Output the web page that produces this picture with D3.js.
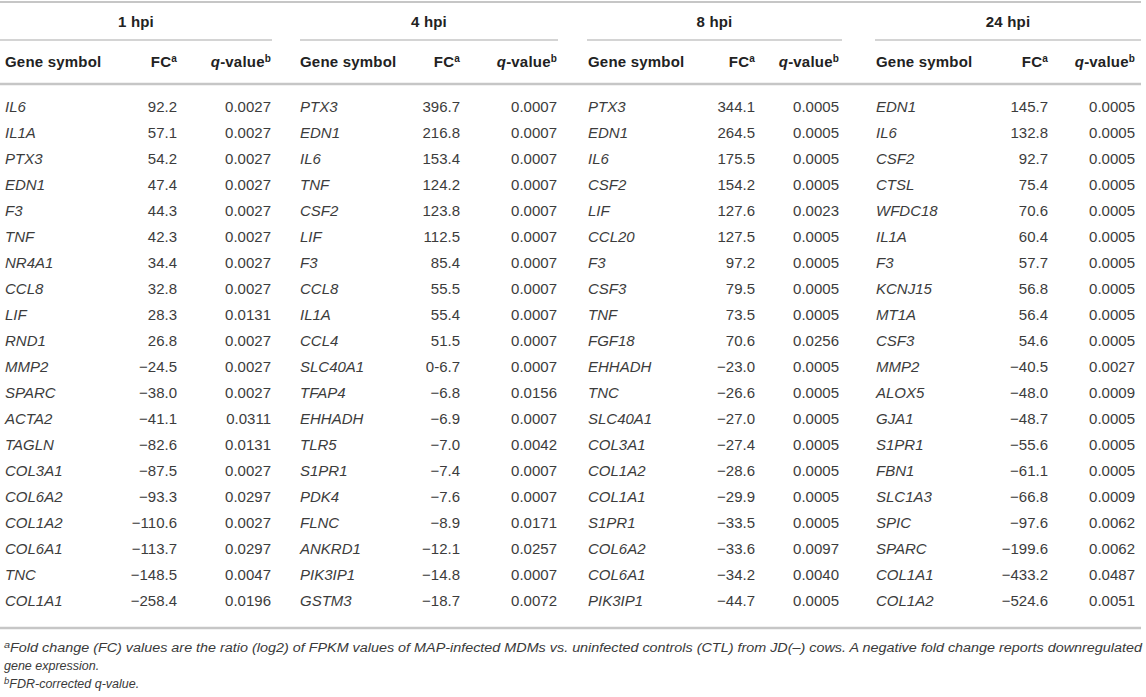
<!DOCTYPE html>
<html>
<head>
<meta charset="utf-8">
<script src="https://cdn.jsdelivr.net/npm/d3@7"></script>
<style>
  body { margin: 0; background: #fff; }
  svg text { font-family: "Liberation Sans", Arial, Helvetica, sans-serif; }
  .cell { font-size: 15px; fill: #3c3c3c; }
  .gene { font-style: italic; }
  .head { font-size: 15px; font-weight: bold; fill: #222; letter-spacing: 0.2px; }
  .note { font-size: 12.5px; font-style: italic; fill: #3a3a3a; }
</style>
</head>
<body>
<div id="chart"></div>
<script>
// table content, one set of arrays per time point
var groups = ["1 hpi", "4 hpi", "8 hpi", "24 hpi"];

var genes1 = ["IL6","IL1A","PTX3","EDN1","F3","TNF","NR4A1","CCL8","LIF","RND1",
              "MMP2","SPARC","ACTA2","TAGLN","COL3A1","COL6A2","COL1A2","COL6A1","TNC","COL1A1"];
var fc1 = [92.2,57.1,54.2,47.4,44.3,42.3,34.4,32.8,28.3,26.8,
           -24.5,-38.0,-41.1,-82.6,-87.5,-93.3,-110.6,-113.7,-148.5,-258.4];
var q1 = [0.0027,0.0027,0.0027,0.0027,0.0027,0.0027,0.0027,0.0027,0.0131,0.0027,
          0.0027,0.0027,0.0311,0.0131,0.0027,0.0297,0.0027,0.0297,0.0047,0.0196];

var genes4 = ["PTX3","EDN1","IL6","TNF","CSF2","LIF","F3","CCL8","IL1A","CCL4",
              "SLC40A1","TFAP4","EHHADH","TLR5","S1PR1","PDK4","FLNC","ANKRD1","PIK3IP1","GSTM3"];
var fc4 = [396.7,216.8,153.4,124.2,123.8,112.5,85.4,55.5,55.4,51.5,
           -6.7,-6.8,-6.9,-7.0,-7.4,-7.6,-8.9,-12.1,-14.8,-18.7];
var q4 = [0.0007,0.0007,0.0007,0.0007,0.0007,0.0007,0.0007,0.0007,0.0007,0.0007,
          0.0007,0.0156,0.0007,0.0042,0.0007,0.0007,0.0171,0.0257,0.0007,0.0072];

var genes8 = ["PTX3","EDN1","IL6","CSF2","LIF","CCL20","F3","CSF3","TNF","FGF18",
              "EHHADH","TNC","SLC40A1","COL3A1","COL1A2","COL1A1","S1PR1","COL6A2","COL6A1","PIK3IP1"];
var fc8 = [344.1,264.5,175.5,154.2,127.6,127.5,97.2,79.5,73.5,70.6,
           -23.0,-26.6,-27.0,-27.4,-28.6,-29.9,-33.5,-33.6,-34.2,-44.7];
var q8 = [0.0005,0.0005,0.0005,0.0005,0.0023,0.0005,0.0005,0.0005,0.0005,0.0256,
          0.0005,0.0005,0.0005,0.0005,0.0005,0.0005,0.0005,0.0097,0.0040,0.0005];

var genes24 = ["EDN1","IL6","CSF2","CTSL","WFDC18","IL1A","F3","KCNJ15","MT1A","CSF3",
               "MMP2","ALOX5","GJA1","S1PR1","FBN1","SLC1A3","SPIC","SPARC","COL1A1","COL1A2"];
var fc24 = [145.7,132.8,92.7,75.4,70.6,60.4,57.7,56.8,56.4,54.6,
            -40.5,-48.0,-48.7,-55.6,-61.1,-66.8,-97.6,-199.6,-433.2,-524.6];
var q24 = [0.0005,0.0005,0.0005,0.0005,0.0005,0.0005,0.0005,0.0005,0.0005,0.0005,
           0.0027,0.0009,0.0005,0.0005,0.0005,0.0009,0.0062,0.0062,0.0487,0.0051];

// the source prints this one cell as "0-6.7"
var fcLabelFix = { "4 hpi|SLC40A1": "0-6.7" };

var footA = ["Fold change (FC) values are the ratio (log2) of FPKM values of MAP-infected MDMs vs. uninfected controls (CTL) from JD(\u2013) cows. A negative fold change reports downregulated",
             "gene expression."];
var footB = "FDR-corrected q-value.";

var tables = [
  {name: groups[0], genes: genes1, fc: fc1, q: q1},
  {name: groups[1], genes: genes4, fc: fc4, q: q4},
  {name: groups[2], genes: genes8, fc: fc8, q: q8},
  {name: groups[3], genes: genes24, fc: fc24, q: q24}
];

// layout
var W = 1146, H = 697;
// gene column left edge, FC right edge, q right edge, underline span
var cols = [
  {gene: 5,   fc: 177,  q: 271,  x0: 0,   x1: 272},
  {gene: 300, fc: 460,  q: 557,  x0: 300, x1: 558},
  {gene: 588, fc: 755,  q: 839,  x0: 587, x1: 842},
  {gene: 876, fc: 1048, q: 1135, x0: 875, x1: 1141}
];

var fmtFC = d3.format(".1f"), fmtQ = d3.format(".4f");
var y = d3.scaleLinear().domain([0, 19]).range([107, 601]);

var svg = d3.select("#chart").append("svg")
    .attr("width", W).attr("height", H);

var ruleColor = "#c6c6c6";
function rule(y0, x0, x1, w) {
  svg.append("line").attr("x1", x0).attr("x2", x1).attr("y1", y0).attr("y2", y0)
     .attr("stroke", ruleColor).attr("stroke-width", w);
}
rule(2, 0, 1141, 2);
rule(84, 0, 1141, 2.5);
rule(628, 0, 1141, 2.5);

tables.forEach(function(t, i) {
  var c = cols[i];
  var g = svg.append("g");

  // group title + underline
  g.append("text").attr("class", "head")
    .attr("x", (c.x0 + c.x1) / 2).attr("y", 27)
    .attr("text-anchor", "middle").text(t.name);
  g.append("line").attr("x1", c.x0).attr("x2", c.x1).attr("y1", 40).attr("y2", 40)
    .attr("stroke", ruleColor).attr("stroke-width", 1.5);

  // column headers
  g.append("text").attr("class", "head").attr("x", c.gene).attr("y", 67).text("Gene symbol");
  var fcH = g.append("text").attr("class", "head").attr("x", c.fc).attr("y", 67).attr("text-anchor", "end");
  fcH.append("tspan").text("FC");
  fcH.append("tspan").attr("dy", -5).attr("font-size", "10px").text("a");
  var qH = g.append("text").attr("class", "head").attr("x", c.q).attr("y", 67).attr("text-anchor", "end");
  qH.append("tspan").attr("font-style", "italic").text("q");
  qH.append("tspan").text("-value");
  qH.append("tspan").attr("dy", -5).attr("font-size", "10px").text("b");

  // rows
  var rows = g.selectAll("g.row").data(t.genes).join("g").attr("class", "row")
    .attr("transform", function(d, j) { return "translate(0," + (y(j) + 5) + ")"; });
  rows.append("text").attr("class", "cell gene").attr("x", c.gene).text(function(d) { return d; });
  rows.append("text").attr("class", "cell").attr("x", c.fc).attr("text-anchor", "end")
    .text(function(d, j) { return fcLabelFix[t.name + "|" + d] || fmtFC(t.fc[j]); });
  rows.append("text").attr("class", "cell").attr("x", c.q).attr("text-anchor", "end")
    .text(function(d, j) { return fmtQ(t.q[j]); });
});

// footnotes
var n1 = svg.append("text").attr("class", "note").attr("x", 4).attr("y", 652);
n1.append("tspan").attr("dy", -4).attr("font-size", "9.5px").text("a");
n1.append("tspan").attr("dy", 4).text(footA[0]);
n1.attr("textLength", 1138).attr("lengthAdjust", "spacingAndGlyphs");
svg.append("text").attr("class", "note").attr("x", 4).attr("y", 670).text(footA[1]);
var n2 = svg.append("text").attr("class", "note").attr("x", 4).attr("y", 688);
n2.append("tspan").attr("dy", -4).attr("font-size", "9.5px").text("b");
n2.append("tspan").attr("dy", 4).text(footB);
</script>
</body>
</html>
